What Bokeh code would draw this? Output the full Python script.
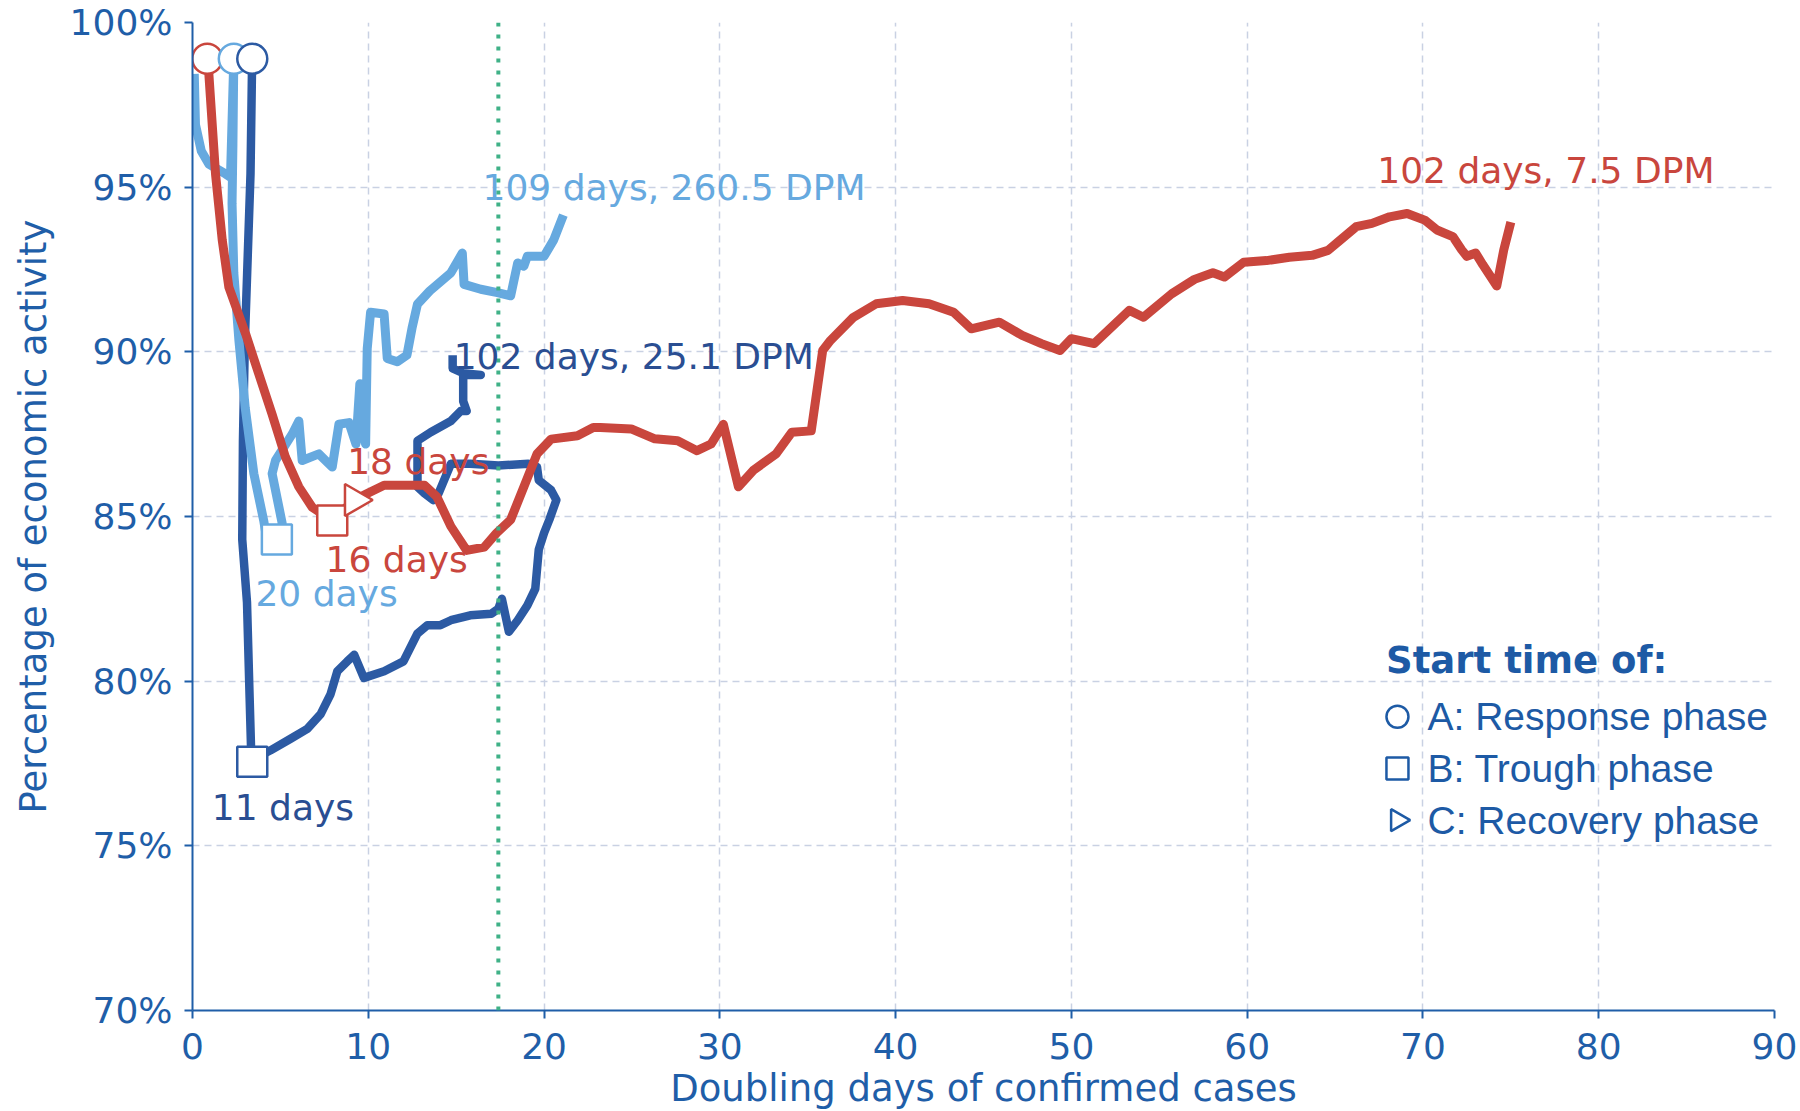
import math

from bokeh.plotting import figure
from bokeh.models import Range1d, FixedTicker, Label, Span
from bokeh.embed import file_html
from bokeh.resources import INLINE

# ---------------- data ----------------
# Doubling days (x) vs. percentage of economic activity (y), one path per region
dark_x = [3.4, 3.38, 3.3, 3.11, 2.98, 2.87, 2.83, 3.1, 3.25, 3.35, 4.44, 5.58, 6.53, 7.29,
          7.85, 8.24, 8.8, 9.2, 9.75, 10.9, 12.0, 12.8, 13.36, 14.1, 14.7, 15.8, 17.0,
          17.4, 17.6, 18.0, 18.5, 19.05, 19.5, 19.7, 20.0, 20.3, 20.7, 20.4, 19.7, 19.6,
          19.1, 17.4, 15.8, 14.7, 14.0, 13.7, 13.2, 12.8, 12.8, 13.55, 14.7, 15.25, 15.6,
          15.4, 15.4, 16.4, 15.4, 14.8, 14.8]
dark_y = [98.9, 98.4, 95.4, 92.4, 90.35, 87.3, 84.3, 82.4, 79.5, 77.6, 77.9, 78.25, 78.55,
          79.0, 79.6, 80.3, 80.6, 80.8, 80.1, 80.3, 80.6, 81.45, 81.7, 81.7, 81.85, 82.0,
          82.05, 82.2, 82.5, 81.5, 81.85, 82.3, 82.8, 84.0, 84.5, 84.9, 85.5, 85.8, 86.1,
          86.5, 86.6, 86.55, 86.6, 86.6, 85.7, 85.5, 85.7, 85.9, 87.3, 87.56, 87.9, 88.2,
          88.2, 88.5, 89.3, 89.3, 89.35, 89.5, 89.9]

light_x = [0.1, 0.17, 0.5, 0.93, 1.88, 2.16, 2.35, 2.3, 2.25, 2.35, 2.64, 3.0, 3.49, 4.06,
           4.2, 4.95, 5.1, 4.53, 4.72, 5.67, 6.05, 6.24, 7.19, 7.95, 8.33, 8.9, 9.3, 9.52,
           9.66, 9.85, 9.94, 10.13, 10.9, 11.08, 11.65, 12.2, 12.5, 12.8, 13.5, 14.7,
           15.35, 15.45, 16.4, 17.35, 18.1, 18.5, 18.85, 19.05, 20.0, 20.55, 21.1]
light_y = [98.44, 96.9, 96.1, 95.7, 95.4, 95.3, 98.9, 96.3, 94.5, 92.4, 90.35, 88.3, 86.3,
           84.85, 84.4, 84.4, 84.8, 86.3, 86.7, 87.5, 87.9, 86.7, 86.9, 86.5, 87.8, 87.85,
           87.2, 89.03, 87.6, 87.2, 90.1, 91.2, 91.15, 89.8, 89.7, 89.9, 90.75, 91.45,
           91.85, 92.4, 93.0, 92.05, 91.9, 91.8, 91.7, 92.7, 92.6, 92.9, 92.9, 93.4, 94.15]

red_x = [0.84, 0.93, 1.31, 1.69, 2.07, 3.02, 3.77, 4.53, 5.29, 6.05, 6.81, 7.95, 9.2, 9.94,
         10.9, 13.2, 13.9, 14.7, 15.6, 16.6, 17.3, 18.1, 18.85, 19.6, 20.4, 21.9, 22.8,
         23.2, 24.96, 26.3, 27.6, 28.7, 29.5, 30.2, 31.06, 31.9, 33.2, 34.1, 35.2, 35.85,
         36.3, 37.6, 38.9, 40.4, 41.9, 43.3, 44.3, 45.9, 47.2, 48.3, 49.35, 50.0, 51.3,
         53.3, 54.1, 55.7, 57.0, 58.05, 58.7, 59.8, 61.1, 62.4, 63.7, 64.6, 65.2, 66.2,
         67.1, 68.1, 69.1, 70.1, 70.8, 71.7, 72.2, 72.5, 73.0, 73.4, 74.2, 74.6, 75.0]
red_y = [98.9, 98.44, 95.4, 93.4, 91.96, 90.55, 89.33, 88.1, 86.8, 85.9, 85.28, 84.88, 85.5,
         85.7, 85.95, 85.95, 85.6, 84.7, 83.97, 84.07, 84.5, 84.9, 85.9, 86.9, 87.35,
         87.45, 87.7, 87.7, 87.66, 87.36, 87.3, 87.0, 87.2, 87.8, 85.9, 86.4, 86.9, 87.56,
         87.6, 90.04, 90.35, 91.05, 91.46, 91.56, 91.46, 91.2, 90.7, 90.9, 90.5, 90.25,
         90.04, 90.4, 90.25, 91.26, 91.05, 91.76, 92.2, 92.4, 92.27, 92.72, 92.77, 92.87,
         92.93, 93.08, 93.35, 93.8, 93.9, 94.1, 94.2, 94.0, 93.7, 93.5, 93.1, 92.9, 93.0,
         92.65, 92.0, 93.1, 93.94]

# Phase start points: response (A), trough (B), recovery (C)
response_x = [0.84, 2.35, 3.4]          # red, light blue, dark blue
response_y = [98.9, 98.9, 98.9]
trough_x = [7.95, 4.8, 3.4]             # red, light blue, dark blue
trough_y = [84.88, 84.3, 77.55]
recovery_x = [9.2]                      # red
recovery_y = [85.5]

# Reference doubling-time threshold
threshold_days = 17.4

x_ticks = [0, 10, 20, 30, 40, 50, 60, 70, 80, 90]
y_ticks = [70, 75, 80, 85, 90, 95, 100]
y_tick_labels = ["70%", "75%", "80%", "85%", "90%", "95%", "100%"]

legend_labels = ["A: Response phase", "B: Trough phase", "C: Recovery phase"]

# ---------------- style ----------------
DARK = "#2c5aa3"
LIGHT = "#66a9df"
RED = "#c9463d"
AXIS_BLUE = "#1f5ea8"
DARK_TEXT = "#2a4e92"
GRID = "#c9d1e3"
FONT = "DejaVu Sans"
series_colors = [RED, LIGHT, DARK]

p = figure(
    frame_width=1582, frame_height=988,
    min_border_left=192, min_border_right=26, min_border_top=22, min_border_bottom=101,
    x_range=Range1d(0, 90), y_range=Range1d(70, 100),
    output_backend="svg", toolbar_location=None,
    background_fill_color="white", border_fill_color="white",
)
p.outline_line_color = None

# axes
for ax in (p.xaxis[0], p.yaxis[0]):
    ax.axis_line_color = AXIS_BLUE
    ax.axis_line_width = 2
    ax.major_tick_line_color = AXIS_BLUE
    ax.major_tick_line_width = 2
    ax.major_tick_out = 8
    ax.major_tick_in = 0
    ax.minor_tick_line_color = None
    ax.major_label_text_color = AXIS_BLUE
    ax.major_label_text_font = FONT
    ax.major_label_text_font_size = "36px"
    ax.axis_label_text_color = AXIS_BLUE
    ax.axis_label_text_font = FONT
    ax.axis_label_text_font_size = "37px"
    ax.axis_label_text_font_style = "normal"

p.xaxis.ticker = FixedTicker(ticks=x_ticks)
p.yaxis.ticker = FixedTicker(ticks=y_ticks)
p.yaxis.major_label_overrides = dict(zip(y_ticks, y_tick_labels))
p.xaxis.axis_label = "Doubling days of confirmed cases"
p.yaxis.axis_label = "Percentage of economic activity"
p.xaxis.major_label_standoff = 14
p.xaxis.axis_label_standoff = 5
p.yaxis.major_label_standoff = 12
p.yaxis.axis_label_standoff = 12

# grid
for g in (p.xgrid[0], p.ygrid[0]):
    g.grid_line_color = GRID
    g.grid_line_width = 1.5
    g.grid_line_dash = "7 5"

# threshold line
p.add_layout(Span(location=threshold_days, dimension="height", line_color="#3fb187",
                  line_width=4, line_dash="4 8"))

# series paths
p.line(dark_x, dark_y, line_color=DARK, line_width=8.5, line_join="round")
p.line(light_x, light_y, line_color=LIGHT, line_width=9, line_join="round")
p.line(red_x, red_y, line_color=RED, line_width=9, line_join="round")

# phase start markers
p.scatter(response_x, response_y, marker="circle", size=30, fill_color="white",
          line_color=series_colors, line_width=2.5)
p.scatter(trough_x, trough_y, marker="square", size=30, fill_color="white",
          line_color=series_colors, line_width=2.5)
p.scatter(recovery_x, recovery_y, marker="triangle", size=32, angle=-math.pi / 2,
          fill_color="white", line_color=RED, line_width=2.5)

# annotations
def note(x, y, text, color):
    p.add_layout(Label(x=x, y=y, text=text, text_color=color, text_font=FONT,
                       text_font_size="36px", text_align="left", text_baseline="middle"))

note(16.5, 95.0, "109 days, 260.5 DPM", LIGHT)
note(14.86, 89.86, "102 days, 25.1 DPM", DARK_TEXT)
note(67.4, 95.5, "102 days, 7.5 DPM", RED)
note(8.8, 86.66, "18 days", RED)
note(7.57, 83.7, "16 days", RED)
note(3.58, 82.65, "20 days", LIGHT)
note(1.1, 76.17, "11 days", DARK_TEXT)

# legend block
LEG_BLUE = "#1d5aa5"
leg_key_x = 68.55
leg_text_x = 70.26
leg_title_y = 80.63
leg_row_y = [78.92, 77.35, 75.78]
p.add_layout(Label(x=67.9, y=leg_title_y, text="Start time of:", text_color=LEG_BLUE,
                   text_font=FONT, text_font_size="37px", text_font_style="bold",
                   text_align="left", text_baseline="middle"))
leg_markers = ["circle", "square", "triangle"]
leg_angles = [0.0, 0.0, -math.pi / 2]
for mk, ang, ly, lab in zip(leg_markers, leg_angles, leg_row_y, legend_labels):
    p.scatter([leg_key_x], [ly], marker=mk, size=22, angle=ang, fill_color="white",
              line_color=LEG_BLUE, line_width=2.5)
    p.add_layout(Label(x=leg_text_x, y=ly, text=lab, text_color=LEG_BLUE,
                       text_font="Liberation Sans", text_font_size="39px",
                       text_align="left", text_baseline="middle"))

open("out.html", "w").write(file_html(p, INLINE))
